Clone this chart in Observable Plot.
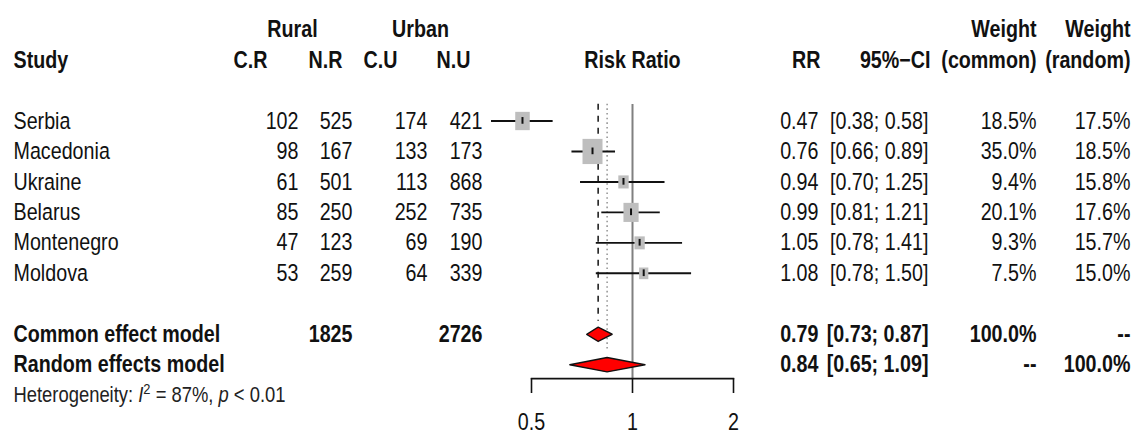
<!DOCTYPE html>
<html><head><meta charset="utf-8">
<script src="https://cdn.jsdelivr.net/npm/d3@7"></script>
<script src="https://cdn.jsdelivr.net/npm/@observablehq/plot@0.6"></script>
<style>html,body{margin:0;background:#fff}#chart{width:1137px;height:435px;position:relative}</style>
</head><body><div id="chart"></div>
<script>
// ---- data ----
const studies = ["Serbia","Macedonia","Ukraine","Belarus","Montenegro","Moldova"];
const casesRural = [102,98,61,85,47,53];
const totalRural = [525,167,501,250,123,259];
const casesUrban = [174,133,113,252,69,64];
const totalUrban = [421,173,868,735,190,339];
const riskRatio = [0.47,0.76,0.94,0.99,1.05,1.08];
const ciLower = [0.38,0.66,0.70,0.81,0.78,0.78];
const ciUpper = [0.58,0.89,1.25,1.21,1.41,1.50];
const weightCommon = [18.5,35.0,9.4,20.1,9.3,7.5];
const weightRandom = [17.5,18.5,15.8,17.6,15.7,15.0];
const modelNames = ["Common effect model","Random effects model"];
const modelRR = [0.79,0.84];
const modelLower = [0.73,0.65];
const modelUpper = [0.87,1.09];
const modelWeightCommon = ["100.0%","--"];
const modelWeightRandom = ["--","100.0%"];
const modelTotalRural = ["1825",""];
const modelTotalUrban = ["2726",""];
const xTicks = [0.5,1,2];
const heterogeneityText = "Heterogeneity: I2 = 87%, p < 0.01";
const groupHeaders = ["Rural","Urban","Weight","Weight"];
const columnHeaders = ["Study","C.R","N.R","C.U","N.U","Risk Ratio","RR","95%\u2212CI","(common)","(random)"];

// ---- layout (target pixels; drawing is stretched vertically by S like the reference) ----
const S = 1.2;
const W = 1137, H = 435;
const plotLeft = 531, plotRight = 733, axisY = 378, refTop = 104;
const FONT = "'Liberation Sans',Arial,Helvetica,sans-serif";
const FS = 19.7;
const mL = plotLeft, mR = W - plotRight, mT = refTop / S, mB = (H - axisY) / S;
const col = (px, anchor = "end") => ({frameAnchor: "left", dx: px - mL, textAnchor: anchor});
const f2 = v => v.toFixed(2);

const studyRows = studies.map((s, i) => ({
  row: i, study: s, cr: String(casesRural[i]), nr: String(totalRural[i]),
  cu: String(casesUrban[i]), nu: String(totalUrban[i]),
  rr: riskRatio[i], lo: ciLower[i], hi: ciUpper[i],
  rrText: f2(riskRatio[i]), ci: `[${f2(ciLower[i])}; ${f2(ciUpper[i])}]`,
  wc: weightCommon[i], wr: weightRandom[i],
  wcText: weightCommon[i].toFixed(1) + "%", wrText: weightRandom[i].toFixed(1) + "%"
}));
const firstModelRow = studies.length + 1;
const modelRows = modelNames.map((m, k) => ({
  row: firstModelRow + k, study: m, cr: "", nr: modelTotalRural[k], cu: "", nu: modelTotalUrban[k],
  rr: modelRR[k], lo: modelLower[k], hi: modelUpper[k],
  rrText: f2(modelRR[k]), ci: `[${f2(modelLower[k])}; ${f2(modelUpper[k])}]`,
  wcText: modelWeightCommon[k], wrText: modelWeightRandom[k]
}));
const hetRow = firstModelRow + modelNames.length;
const headerRow2 = -2, headerRow1 = -3;

const bodyCols = [
  {key: "study", px: 13, anchor: "start"},
  {key: "cr", px: 298}, {key: "nr", px: 352}, {key: "cu", px: 427}, {key: "nu", px: 482},
  {key: "rrText", px: 818}, {key: "ci", px: 928}, {key: "wcText", px: 1036}, {key: "wrText", px: 1130}
];
const headerPos = [
  {px: 13, anchor: "start"}, {px: 267}, {px: 342}, {px: 397}, {px: 470},
  {px: null}, {px: 820}, {px: 930}, {px: 1036}, {px: 1130}
];
const groupPos = [{px: 292, anchor: "middle"}, {px: 420, anchor: "middle"}, {px: 1036}, {px: 1130}];

const diamondH = 0.235;
const diamondPts = modelRows.flatMap(d => [
  {m: d.study, x: d.lo, y: d.row}, {m: d.study, x: d.rr, y: d.row - diamondH},
  {m: d.study, x: d.hi, y: d.row}, {m: d.study, x: d.rr, y: d.row + diamondH}
]);

const ASPECT = 1.26 / S;
const rectSymbol = {
  draw(context, size) {
    const r = Math.sqrt(size / Math.PI);
    const h = r * ASPECT;
    context.moveTo(-r, -h); context.lineTo(r, -h); context.lineTo(r, h); context.lineTo(-r, h); context.closePath();
  }
};

const textMarks = [];
for (const c of bodyCols) {
  textMarks.push(Plot.text(studyRows, {y: "row", text: c.key, ...col(c.px, c.anchor || "end"), fontSize: FS, fill: "#111"}));
  textMarks.push(Plot.text(modelRows, {y: "row", text: c.key, ...col(c.px, c.anchor || "end"), fontSize: FS, fontWeight: "bold", fill: "#111"}));
}
columnHeaders.forEach((h, i) => {
  const p = headerPos[i];
  const pos = p.px == null ? {frameAnchor: "middle", textAnchor: "middle"} : col(p.px, p.anchor || "end");
  textMarks.push(Plot.text([h], {y: () => headerRow2, text: d => d, ...pos, fontSize: FS, fontWeight: "bold", fill: "#111"}));
});
groupHeaders.forEach((h, i) => {
  const p = groupPos[i];
  textMarks.push(Plot.text([h], {y: () => headerRow1, text: d => d, ...col(p.px, p.anchor || "end"), fontSize: FS, fontWeight: "bold", fill: "#111"}));
});
textMarks.push(Plot.text([heterogeneityText], {y: () => hetRow, text: d => d, ...col(13, "start"), fontSize: 18.4, fill: "#222"}));

const chart = Plot.plot({
  width: W, height: H / S,
  marginLeft: mL, marginRight: mR, marginTop: mT, marginBottom: mB,
  style: {fontFamily: FONT, background: "white", color: "#111", transform: `scaleY(${S})`, transformOrigin: "0 0", display: "block", overflow: "visible"},
  x: {type: "log", domain: [0.5, 2], label: null},
  y: {type: "linear", domain: [headerRow1, hetRow], range: [29.0 / S, 394.6 / S], axis: null},
  r: {type: "sqrt", domain: [0, 35], range: [0, 10]},
  marks: [
    Plot.ruleX([1], {stroke: "#808080", strokeWidth: 2}),
    Plot.ruleX([modelRR[0]], {y1: () => -0.55, y2: () => firstModelRow - 0.42, stroke: "#222", strokeWidth: 1.6, strokeDasharray: "5,5"}),
    Plot.ruleX([modelRR[1]], {y1: () => -0.55, y2: () => firstModelRow + 1 - 0.45, stroke: "#777", strokeWidth: 1.2, strokeDasharray: "1.3,2.6"}),
    Plot.ruleY(studyRows, {y: "row", x1: "lo", x2: "hi", stroke: "#111", strokeWidth: 1.6}),
    Plot.dot(studyRows, {x: "rr", y: "row", r: "wc", symbol: rectSymbol, fill: "#bebebe", stroke: null}),
    Plot.ruleX(studyRows, {x: "rr", y1: d => d.row - 0.11, y2: d => d.row + 0.11, stroke: "#111", strokeWidth: 2}),
    Plot.line(diamondPts, {x: "x", y: "y", z: "m", fill: "red", stroke: "#111", strokeWidth: 1.2, curve: "linear-closed"}),
    Plot.frame({anchor: "bottom", stroke: "#111", strokeWidth: 1.4}),
    Plot.axisX({ticks: xTicks, tickFormat: d => String(d), tickSize: 15 / S, tickPadding: 16, fontSize: FS, strokeWidth: 1.6, label: null, fill: "#111"}),
    ...textMarks
  ]
});
document.getElementById("chart").appendChild(chart);

// rich text for heterogeneity line (italic I, superscript 2, italic p)
d3.select(chart).selectAll("text").each(function() {
  if (this.textContent === heterogeneityText) {
    const t = d3.select(this);
    t.text(null);
    t.append("tspan").text("Heterogeneity: ");
    t.append("tspan").attr("font-style", "italic").text("I");
    t.append("tspan").attr("font-size", "0.7em").attr("dy", "-0.55em").text("2");
    t.append("tspan").attr("dy", "0.385em").text(" = 87%, ");
    t.append("tspan").attr("font-style", "italic").text("p");
    t.append("tspan").text(" < 0.01");
  }
});
</script>
</body></html>
